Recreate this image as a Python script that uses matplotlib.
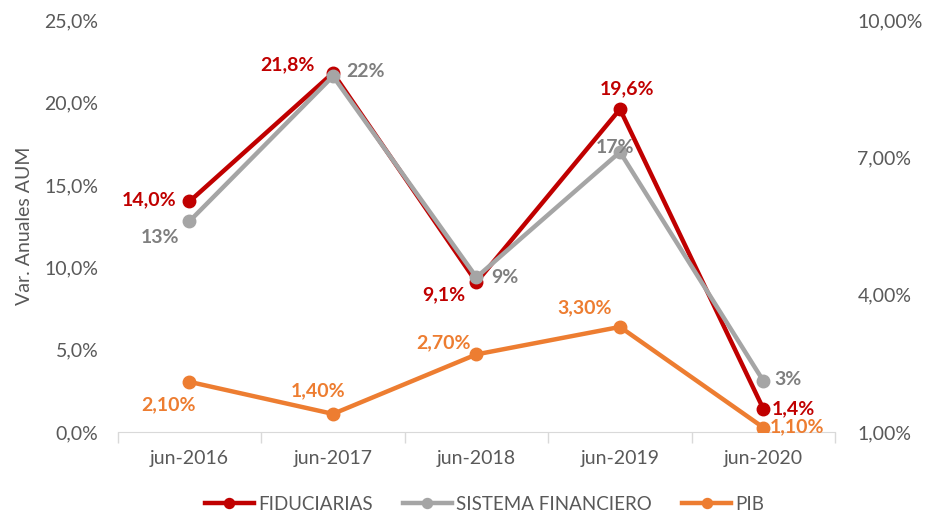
import matplotlib.pyplot as plt
from matplotlib.ticker import FuncFormatter, FixedLocator

plt.rcParams['font.family'] = ['Lato', 'DejaVu Sans']

years = ['jun-2016', 'jun-2017', 'jun-2018', 'jun-2019', 'jun-2020']
fiduciarias = [14.0, 21.8, 9.1, 19.6, 1.4]
sistema = [12.8, 21.6, 9.4, 17.0, 3.1]
pib = [2.10, 1.40, 2.70, 3.30, 1.10]

red = '#C00000'
gray = '#A5A5A5'
orange = '#ED7D31'
txt = '#595959'

fig = plt.figure(figsize=(9.27, 5.17), dpi=100)
ax = fig.add_axes([0.127, 0.164, 0.774, 0.797])
ax2 = ax.twinx()

x = list(range(len(years)))
l1, = ax.plot(x, fiduciarias, color=red, lw=3.2, marker='o', ms=9, label='FIDUCIARIAS', zorder=3)
l2, = ax.plot(x, sistema, color=gray, lw=3.2, marker='o', ms=9, label='SISTEMA FINANCIERO', zorder=4)
l3, = ax2.plot(x, pib, color=orange, lw=3.2, marker='o', ms=9, label='PIB')

ax.set_xlim(-0.5, 4.5)
ax.set_ylim(0, 25)
ax2.set_ylim(1, 10)
ax.set_yticks([0, 5, 10, 15, 20, 25])
ax2.set_yticks([1, 4, 7, 10])
ax.yaxis.set_major_formatter(FuncFormatter(lambda v, p: f'{v:.1f}%'.replace('.', ',')))
ax2.yaxis.set_major_formatter(FuncFormatter(lambda v, p: f'{v:.2f}%'.replace('.', ',')))

ax.set_xticks(x)
ax.set_xticklabels(years)
ax.xaxis.set_minor_locator(FixedLocator([-0.5, 0.5, 1.5, 2.5, 3.5, 4.5]))
ax.tick_params(axis='x', which='major', length=0, pad=13, labelsize=14, labelcolor=txt)
ax.tick_params(axis='x', which='minor', length=8, color='#D9D9D9', width=1)
ax.tick_params(axis='y', length=0, labelsize=14, labelcolor=txt, pad=14)
ax2.tick_params(axis='y', length=0, labelsize=14, labelcolor=txt, pad=16)

for a in (ax, ax2):
    for s in ('top', 'left', 'right'):
        a.spines[s].set_visible(False)
    a.spines['bottom'].set_color('#D9D9D9')
ax2.spines['bottom'].set_visible(False)

ax.set_ylabel('Var. Anuales AUM', fontsize=14, color=txt, labelpad=8)

# data labels (offsets in pixels)
fid_off = [(-40, 2), (-46, 8), (-33, -13), (7, 20), (30, 0)]
sis_off = [(-29, -16), (33, 5), (28, 0), (-5, 5), (24, 2)]
pib_off = [(-21, -23), (-15, 23), (-33, 12), (-35, 19), (34, 1)]

for i in x:
    ax.annotate(f'{fiduciarias[i]:.1f}%'.replace('.', ','), (i, fiduciarias[i]),
                xytext=fid_off[i], textcoords='offset pixels', ha='center', va='center',
                color=red, fontsize=14, fontweight='bold', zorder=6)
    ax.annotate(f'{sistema[i]:.0f}%', (i, sistema[i]),
                xytext=sis_off[i], textcoords='offset pixels', ha='center', va='center',
                color='#7F7F7F', fontsize=14, fontweight='bold', zorder=6)
    ax2.annotate(f'{pib[i]:.2f}%'.replace('.', ','), (i, pib[i]),
                 xytext=pib_off[i], textcoords='offset pixels', ha='center', va='center',
                 color=orange, fontsize=14, fontweight='bold', zorder=6)

fig.legend([l1, l2, l3], ['FIDUCIARIAS', 'SISTEMA FINANCIERO', 'PIB'],
           loc='center', bbox_to_anchor=(0.523, 0.025), ncol=3, frameon=False,
           fontsize=13.5, labelcolor=txt, handlelength=2.6, handletextpad=0.25,
           columnspacing=1.6, markerscale=0.8)

fig.savefig('out.png', dpi=100)
